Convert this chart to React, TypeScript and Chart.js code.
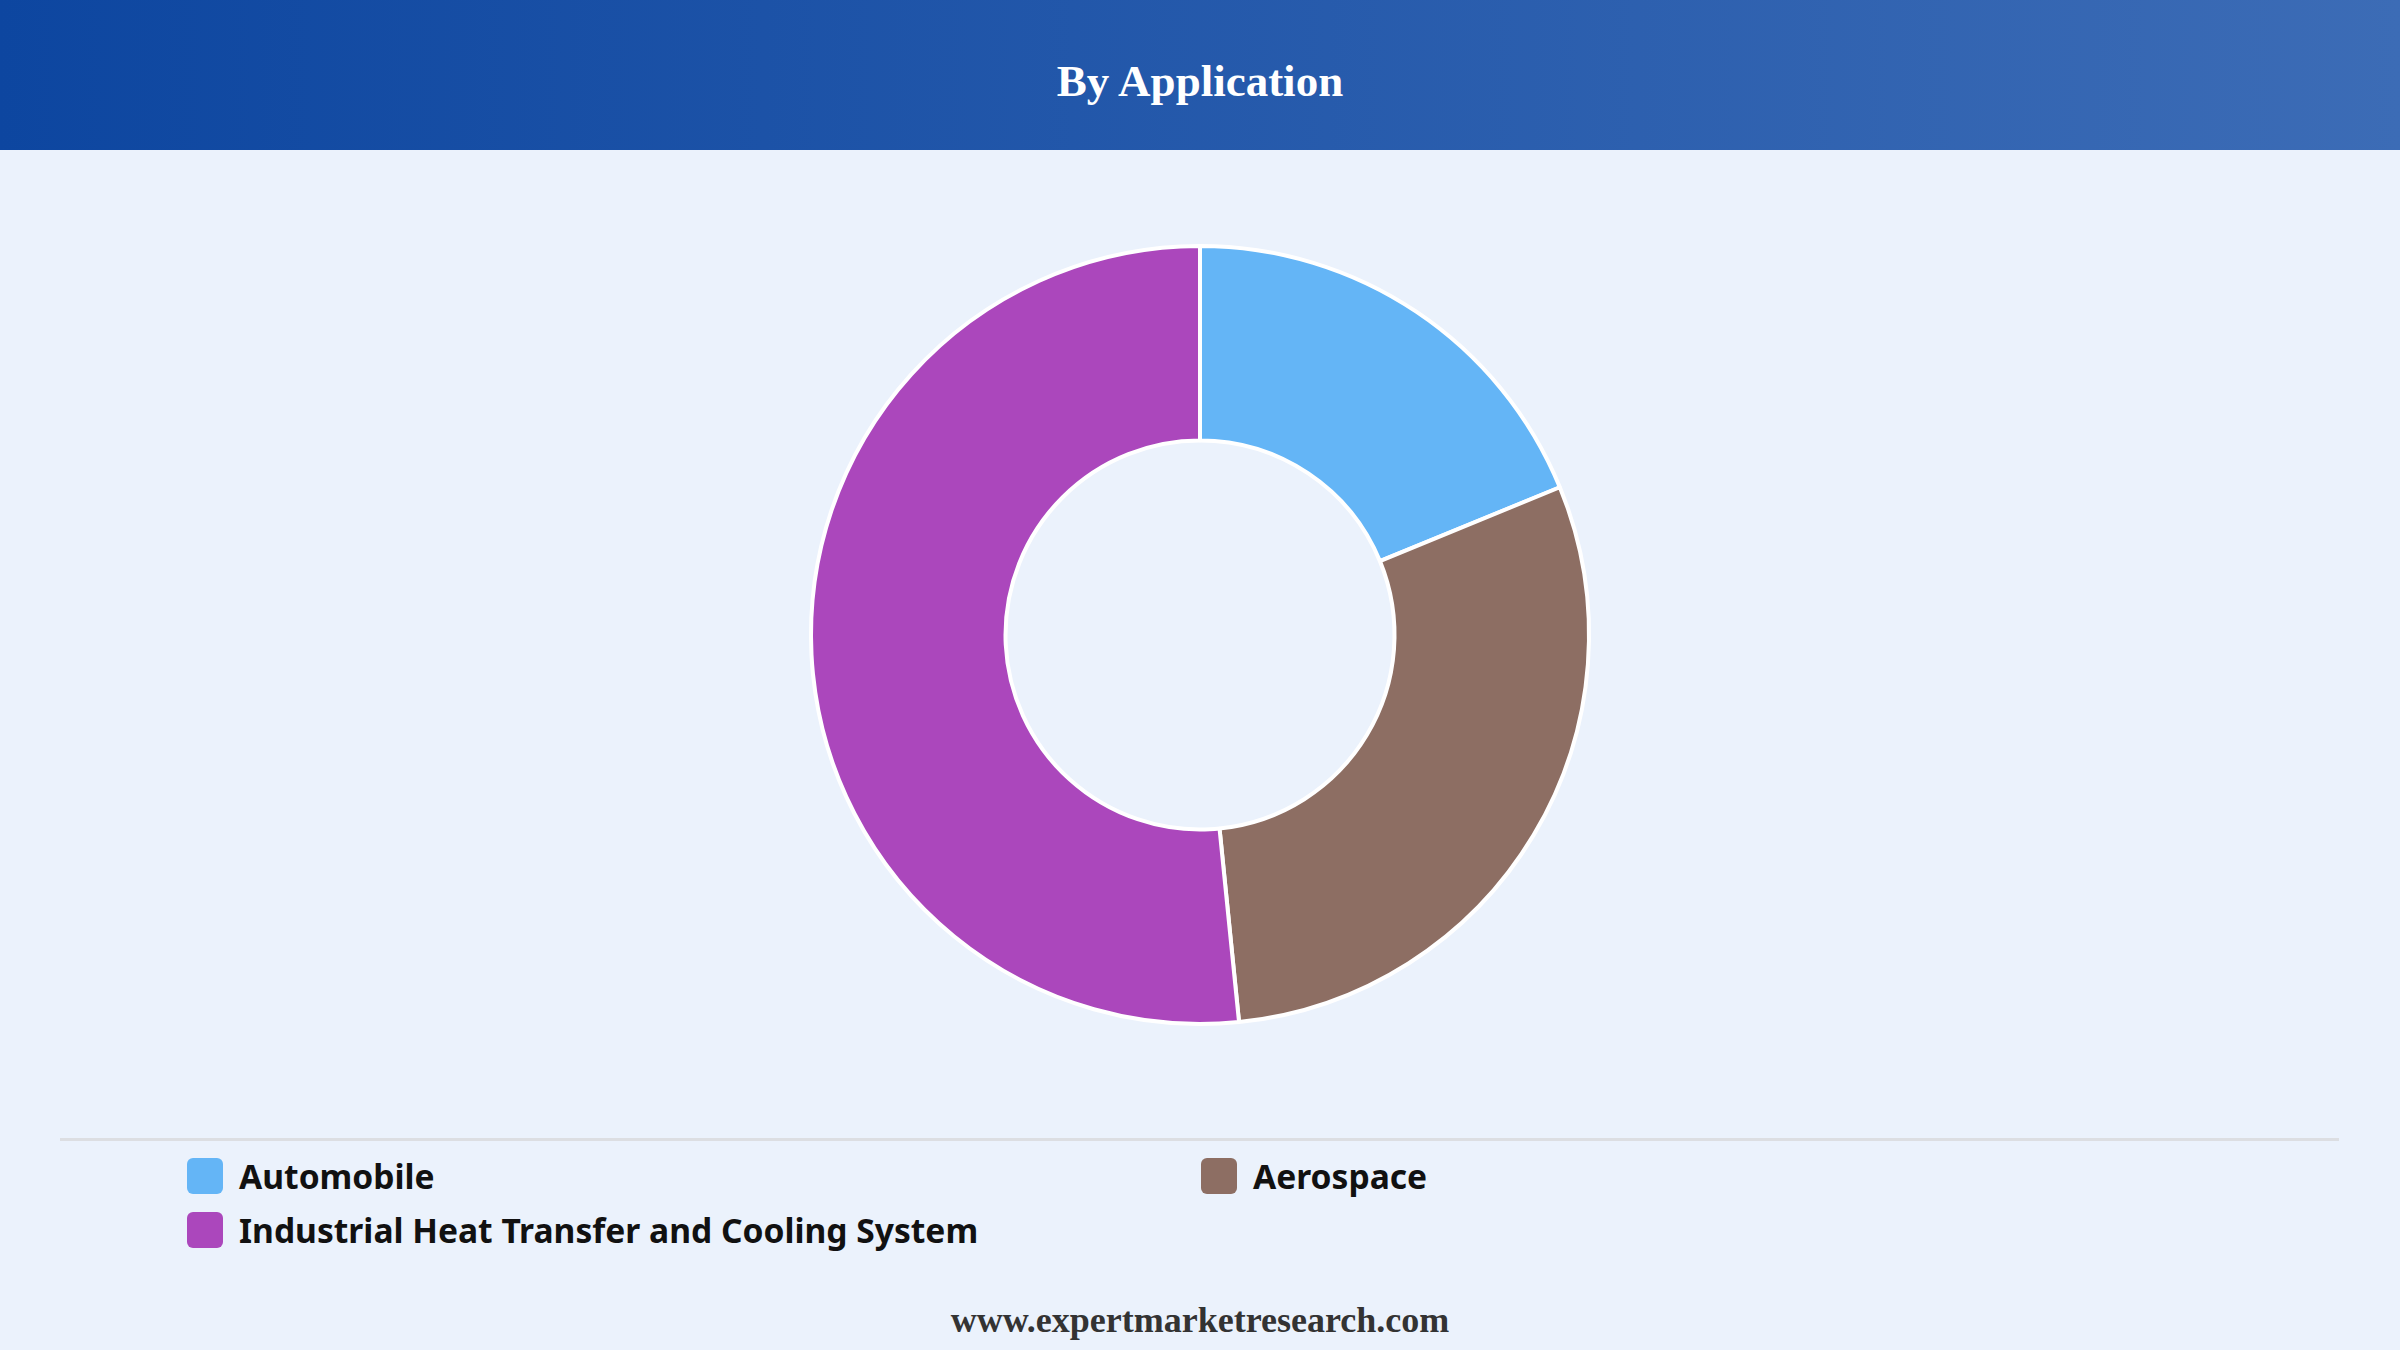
import { Chart, registerables } from 'chart.js';
import { useEffect, useRef } from 'react';

Chart.register(...registerables);

const title = 'By Application';
const source = 'www.expertmarketresearch.com';

const labels = ['Automobile', 'Aerospace', 'Industrial Heat Transfer and Cooling System'];
const shares = [18.8, 29.6, 51.6];
const colors = ['#64B5F6', '#8D6E63', '#AB47BC'];

export default function App() {
	const canvasRef = useRef<HTMLCanvasElement | null>(null);
	const chartRef = useRef<Chart | null>(null);

	useEffect(() => {
		if (!canvasRef.current) return;
		const ctx = canvasRef.current.getContext('2d');
		if (!ctx) return;

		chartRef.current = new Chart(ctx, {
			type: 'doughnut',
			data: {
				labels: labels,
				datasets: [
					{
						data: shares,
						backgroundColor: colors,
						borderColor: '#ffffff',
						borderWidth: 4,
					},
				],
			},
			options: {
				animation: false,
				responsive: true,
				maintainAspectRatio: false,
				radius: 389,
				cutout: '50%',
				layout: { padding: 0 },
				plugins: {
					legend: { display: false },
					tooltip: { enabled: false },
				},
			},
		});

		return () => {
			if (chartRef.current) {
				chartRef.current.destroy();
				chartRef.current = null;
			}
		};
	}, []);

	return (
		<div
			style={{
				position: 'fixed',
				left: 0,
				top: 0,
				width: '2400px',
				height: '1350px',
				background: '#EBF2FC',
				overflow: 'hidden',
			}}>
			<div
				style={{
					position: 'absolute',
					left: 0,
					top: 0,
					width: '2400px',
					height: '150px',
					background: 'linear-gradient(to right, #0D46A0, #3C6CB6)',
				}}>
				<div
					style={{
						position: 'absolute',
						left: 0,
						top: '59px',
						width: '2400px',
						textAlign: 'center',
						color: '#ffffff',
						fontFamily: '"Liberation Serif", "Times New Roman", serif',
						fontWeight: 'bold',
						fontSize: '45px',
						lineHeight: '45px',
					}}>
					{title}
				</div>
			</div>

			<div
				style={{
					position: 'absolute',
					left: 0,
					top: '235px',
					width: '2400px',
					height: '800px',
				}}>
				<canvas ref={canvasRef}></canvas>
			</div>

			<div
				style={{
					position: 'absolute',
					left: '60px',
					top: '1138px',
					width: '2279px',
					height: '3px',
					background: '#DCDEE2',
				}}></div>

			<div
				style={{
					position: 'absolute',
					left: '187px',
					top: '1149px',
					width: '2028px',
					display: 'grid',
					gridTemplateColumns: '1014px 1014px',
					gridAutoRows: '54px',
				}}>
				{labels.map((label, i) => (
					<div key={label} style={{ display: 'flex', alignItems: 'center' }}>
						<span
							style={{
								display: 'inline-block',
								width: '36px',
								height: '36px',
								borderRadius: '6px',
								background: colors[i],
								marginRight: '16px',
								flexShrink: 0,
							}}></span>
						<span
							style={{
								fontFamily: '"Noto Sans", "Open Sans", sans-serif',
								fontWeight: 'bold',
								fontSize: '33.6px',
								color: '#111111',
								whiteSpace: 'nowrap',
							}}>
							{label}
						</span>
					</div>
				))}
			</div>

			<div
				style={{
					position: 'absolute',
					left: 0,
					top: '1302px',
					width: '2400px',
					textAlign: 'center',
					color: '#333333',
					fontFamily: '"Liberation Serif", "Times New Roman", serif',
					fontWeight: 'bold',
					fontSize: '36px',
					lineHeight: '36px',
				}}>
				{source}
			</div>
		</div>
	);
}
